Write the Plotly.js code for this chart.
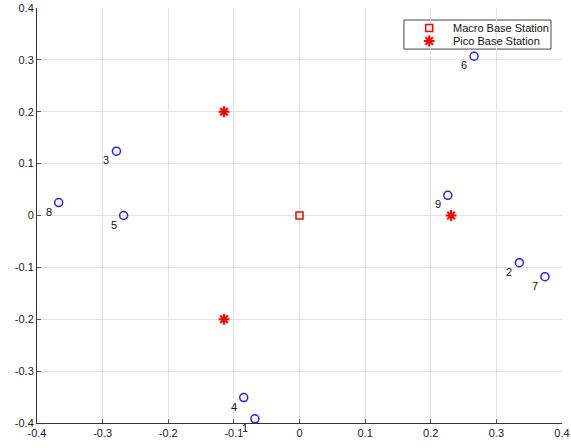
<!DOCTYPE html>
<html>
<head>
<meta charset="utf-8">
<script src="https://cdn.plot.ly/plotly-3.0.1.min.js"></script>
<style>html,body{margin:0;padding:0;background:#fff;}#chart{width:571px;height:448px;}</style>
</head>
<body>
<div id="chart"></div>
<script>
// Data
const macroX = [0];
const macroY = [0];
const picoX = [-0.115, -0.115, 0.231];
const picoY = [0.2, -0.2, 0.0];
const userLabels = ['1', '2', '3', '4', '5', '6', '7', '8', '9'];
const userX = [-0.068, 0.335, -0.279, -0.085, -0.268, 0.266, 0.374, -0.367, 0.226];
const userY = [-0.392, -0.091, 0.124, -0.351, 0.0, 0.307, -0.118, 0.025, 0.039];
const tickVals = [-0.4, -0.3, -0.2, -0.1, 0, 0.1, 0.2, 0.3, 0.4];
const tickText = ['-0.4', '-0.3', '-0.2', '-0.1', '0', '0.1', '0.2', '0.3', '0.4'];
const legendNames = ['Macro Base Station', 'Pico Base Station'];

const font = {family: 'Liberation Sans, Arial, sans-serif', size: 11, color: '#222'};
const red = '#ff0000';
const blue = '#2020ff';
const macroMarker = {symbol: 'square-open', size: 7, color: red, line: {width: 1.5, color: red}};
const picoMarker = {symbol: 'asterisk-open', size: 9, color: red, line: {width: 2, color: red}};

// compact legend box (positions in paper fractions of the plot area)
const legBox = {x0: 0.699, x1: 0.979, y0: 0.901, y1: 0.971};
const legMarkX = 0.747;
const legTextX = 0.789;
const legRowY = [0.952, 0.9205];

const traces = [
  {x: macroX, y: macroY, type: 'scatter', mode: 'markers', name: legendNames[0], marker: macroMarker},
  {x: picoX, y: picoY, type: 'scatter', mode: 'markers', name: legendNames[1], marker: picoMarker},
  {x: userX, y: userY, type: 'scatter', mode: 'markers', name: 'Users',
   marker: {symbol: 'circle-open', size: 8, color: blue, line: {width: 1.5, color: blue}}},
  // legend symbols
  {x: [legMarkX], y: [legRowY[0]], xaxis: 'x2', yaxis: 'y2', type: 'scatter', mode: 'markers', marker: macroMarker},
  {x: [legMarkX], y: [legRowY[1]], xaxis: 'x2', yaxis: 'y2', type: 'scatter', mode: 'markers', marker: picoMarker}
];

const annotations = userLabels.map((t, i) => ({
  x: userX[i], y: userY[i], xref: 'x', yref: 'y', text: t, showarrow: false,
  xshift: -10, yshift: -9, font: {family: font.family, size: 11, color: '#111'}
})).concat(legendNames.map((t, i) => ({
  x: legTextX, y: legRowY[i], xref: 'paper', yref: 'paper', text: t, showarrow: false,
  xanchor: 'left', yanchor: 'middle', font: {family: font.family, size: 11, color: '#111'}
})));

const axisCommon = {
  range: [-0.4, 0.4], tickvals: tickVals, ticktext: tickText,
  showgrid: true, gridcolor: '#e3e3e3', gridwidth: 1,
  zeroline: false, showline: true, linecolor: '#333', linewidth: 1,
  ticks: 'inside', ticklen: 4, tickcolor: '#555', tickfont: font, fixedrange: true
};

const layout = {
  width: 571, height: 448,
  margin: {l: 37, r: 9, t: 8, b: 25},
  paper_bgcolor: '#fff', plot_bgcolor: '#fff',
  showlegend: false,
  xaxis: Object.assign({}, axisCommon),
  yaxis: Object.assign({}, axisCommon),
  xaxis2: {overlaying: 'x', range: [0, 1], visible: false, fixedrange: true},
  yaxis2: {overlaying: 'y', range: [0, 1], visible: false, fixedrange: true},
  shapes: [{type: 'rect', xref: 'paper', yref: 'paper', x0: legBox.x0, x1: legBox.x1, y0: legBox.y0, y1: legBox.y1,
            line: {color: '#444', width: 1}, fillcolor: '#fff', layer: 'between'}],
  annotations: annotations
};

Plotly.newPlot('chart', traces, layout, {displayModeBar: false, staticPlot: true});
</script>
</body>
</html>
